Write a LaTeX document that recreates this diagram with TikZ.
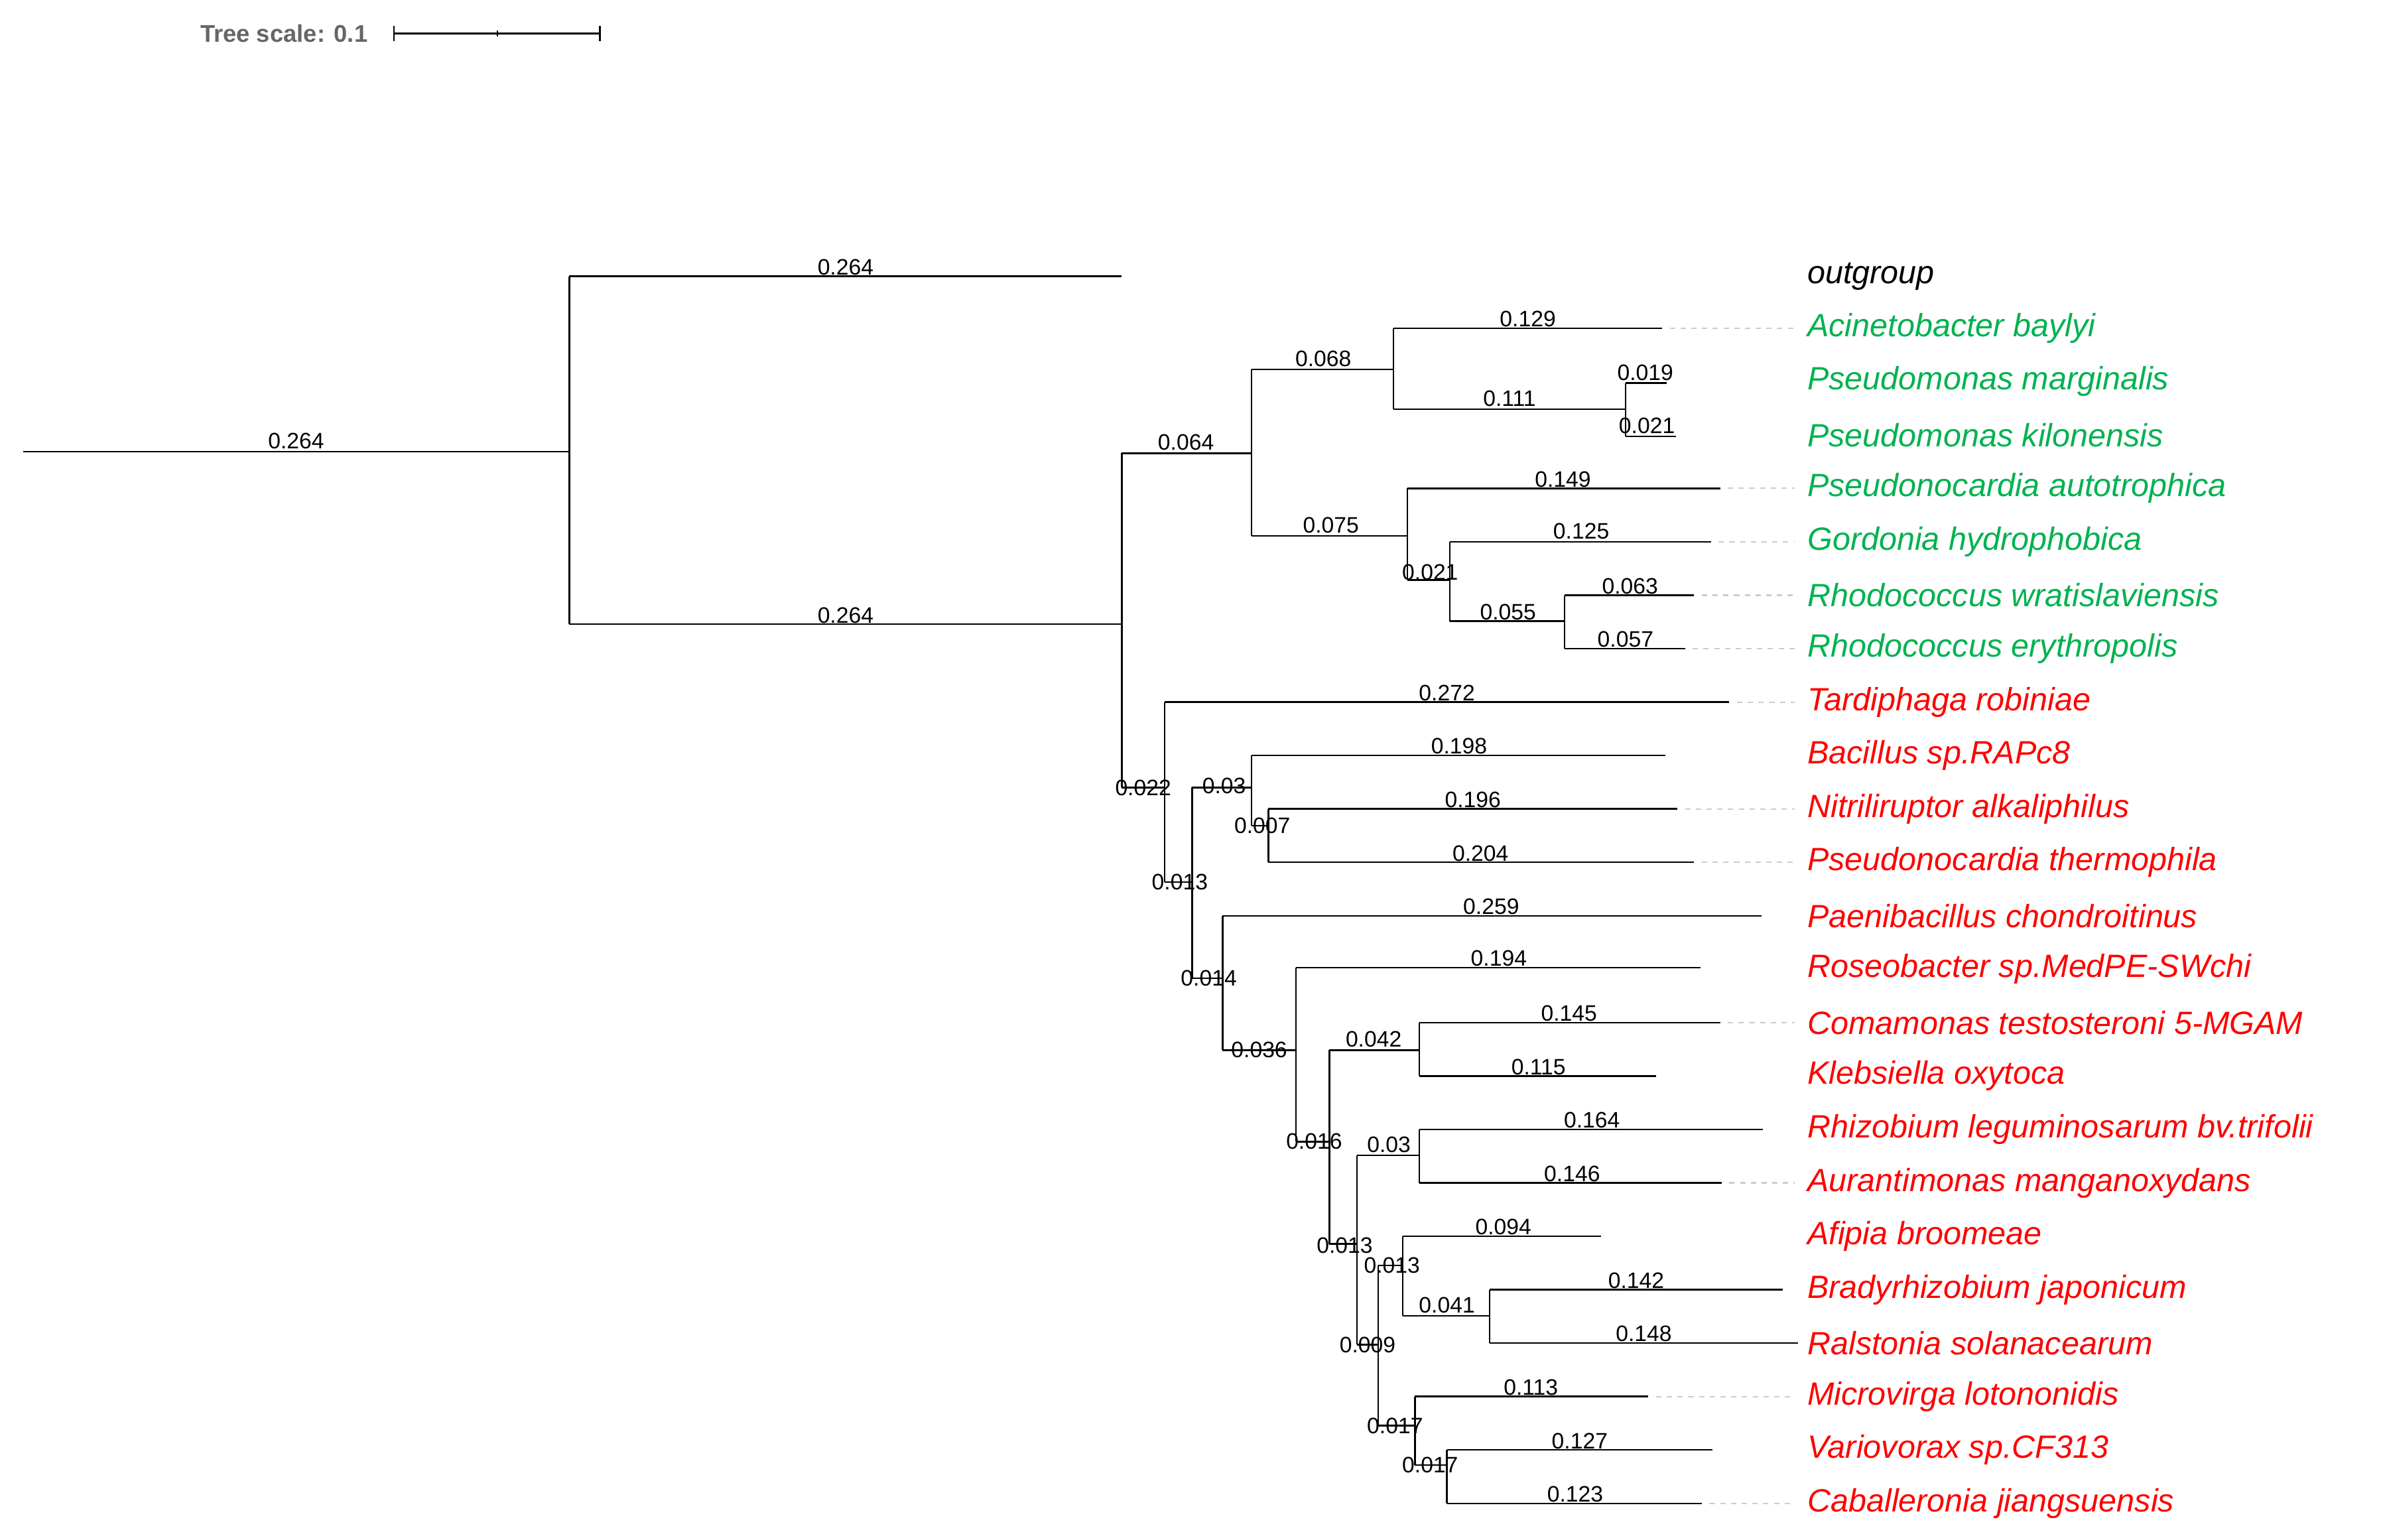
\documentclass[tikz,border=0pt]{standalone}
\usepackage{fontspec}
\setmainfont{Liberation Sans}
\definecolor{grn}{RGB}{0,178,80}
\definecolor{rd}{RGB}{255,0,0}
\tikzset{br/.style={line width=0.9pt},
lab/.style={font=\fontsize{12.5}{13}\selectfont,inner sep=1pt},
sp/.style={font=\fontsize{18}{20}\selectfont\itshape,anchor=west,inner sep=0pt},
lead/.style={gray!40,dashed,line width=0.8pt}}
\newcommand{\hb}[5]{\draw[br] (#1,#3) -- (#2,#3); \node[lab,above] at (#4,#5) {#3x};}
\begin{document}
\begin{tikzpicture}[x=0.03cm,y=-0.03cm]
\useasboundingbox (0,0) rectangle (1560,1009);
% scale
\node[font=\fontsize{13.5}{14}\selectfont\bfseries,text=gray!80!black,anchor=east] (ts) at (245,22) {Tree scale: 0.1};
\draw[line width=0.9pt] (258,22)--(393,22) (258,17)--(258,27) (393,17)--(393,27) (326,20)--(326,24);
% generic branch macro: from x1 to x2 at y with label at (lx,ly)
\def\B#1#2#3#4#5#6{\draw[br] (#1,#3)--(#2,#3); \node[lab] at (#5,#6) {#4};}
\def\V#1#2#3{\draw[br] (#1,#2)--(#1,#3);}
\B{15}{373}{296}{0.264}{194}{289}
\V{373}{181}{409}
\B{373}{735}{181}{0.264}{554}{175}
\B{373}{735}{409}{0.264}{554}{403}
\V{735}{297}{516}
\B{735}{820}{297}{0.064}{777}{290}
\V{820}{242}{351}
\B{820}{913}{242}{0.068}{867}{235}
\V{913}{215}{268}
\B{913}{1089}{215}{0.129}{1001}{209}
\B{913}{1065}{268}{0.111}{989}{261}
\V{1065}{251}{286}
\B{1065}{1092}{251}{0.019}{1078}{244}
\B{1065}{1098}{286}{0.021}{1079}{279}
\B{820}{922}{351}{0.075}{872}{344}
\V{922}{320}{380}
\B{922}{1127}{320}{0.149}{1024}{314}
\B{922}{950}{380}{0.021}{937}{375}
\V{950}{355}{407}
\B{950}{1121}{355}{0.125}{1036}{348}
\B{950}{1025}{407}{0.055}{988}{401}
\V{1025}{390}{425}
\B{1025}{1110}{390}{0.063}{1068}{384}
\B{1025}{1104}{425}{0.057}{1065}{419}
% lower clade
\B{735}{763}{516}{0.022}{749}{516}
\V{763}{460}{578}
\B{763}{1133}{460}{0.272}{948}{454}
\B{763}{781}{578}{0.013}{773}{578}
\V{781}{516}{641}
\B{781}{820}{516}{0.03}{802}{515}
\V{820}{495}{541}
\B{820}{1091}{495}{0.198}{956}{489}
\B{820}{831}{541}{0.007}{827}{541}
\V{831}{530}{565}
\B{831}{1099}{530}{0.196}{965}{524}
\B{831}{1110}{565}{0.204}{970}{559}
\B{781}{801}{641}{0.014}{792}{641}
\V{801}{600}{688}
\B{801}{1154}{600}{0.259}{977}{594}
\B{801}{849}{688}{0.036}{825}{688}
\V{849}{634}{748}
\B{849}{1114}{634}{0.194}{982}{628}
\B{849}{871}{748}{0.016}{861}{748}
\V{871}{688}{815}
\B{871}{930}{688}{0.042}{900}{681}
\V{930}{670}{705}
\B{930}{1127}{670}{0.145}{1028}{664}
\B{930}{1085}{705}{0.115}{1008}{699}
\B{871}{889}{815}{0.013}{881}{816}
\V{889}{757}{881}
\B{889}{930}{757}{0.03}{910}{750}
\V{930}{740}{775}
\B{930}{1155}{740}{0.164}{1043}{734}
\B{930}{1128}{775}{0.146}{1030}{769}
\B{889}{903}{881}{0.009}{896}{881}
\V{903}{829}{934}
\B{903}{919}{829}{0.013}{912}{829}
\V{919}{810}{862}
\B{919}{1049}{810}{0.094}{985}{804}
\B{919}{976}{862}{0.041}{948}{855}
\V{976}{845}{880}
\B{976}{1168}{845}{0.142}{1072}{839}
\B{976}{1178}{880}{0.148}{1077}{874}
\B{903}{927}{934}{0.017}{914}{934}
\V{927}{915}{960}
\B{927}{1080}{915}{0.113}{1003}{909}
\B{927}{948}{960}{0.017}{937}{960}
\V{948}{950}{985}
\B{948}{1122}{950}{0.127}{1035}{944}
\B{948}{1115}{985}{0.123}{1032}{979}
% leaders
\foreach \a/\y in {1089/215,1127/320,1121/355,1110/390,1104/425,1133/460,1099/530,1110/565,1127/670,1128/775,1080/915,1115/985}
  \draw[lead] (\a+5,\y)--(1176,\y);
% species
\node[sp] (o) at (1184,181) {outgroup};
\foreach \n/\y in {Acinetobacter baylyi/215,Pseudomonas marginalis/250,Pseudomonas kilonensis/285,Pseudonocardia autotrophica/320,Gordonia hydrophobica/355,Rhodococcus wratislaviensis/390,Rhodococcus erythropolis/425}
  \node[sp,text=grn] at (1184,\y) {\n};
\foreach \n/\y in {Tardiphaga robiniae/460,Bacillus sp.RAPc8/495,Nitriliruptor alkaliphilus/530,Pseudonocardia thermophila/565,Paenibacillus chondroitinus/600,Roseobacter sp.MedPE-SWchi/635,Comamonas testosteroni 5-MGAM/670,Klebsiella oxytoca/705,Rhizobium leguminosarum bv.trifolii/740,Aurantimonas manganoxydans/775,Afipia broomeae/810,Bradyrhizobium japonicum/845,Ralstonia solanacearum/880,Microvirga lotononidis/915,Variovorax sp.CF313/950,Caballeronia jiangsuensis/985}
  \node[sp,text=rd] at (1184,\y) {\n};
\end{tikzpicture}
\end{document}
